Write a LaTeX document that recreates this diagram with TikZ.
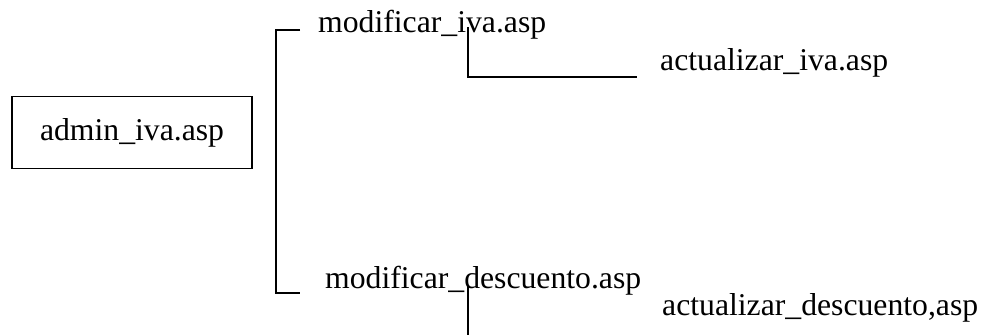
\documentclass[tikz,border=0pt]{standalone}
\usepackage{fontspec}
\setmainfont{Liberation Serif}
\begin{document}
\begin{tikzpicture}[x=1pt,y=-1pt,
  lbl/.style={inner sep=0pt,anchor=base west,font=\fontsize{31.7}{38}\selectfont},
  conn/.style={line width=1.3pt}]
\useasboundingbox (0,0) rectangle (987,335);
\node[draw,line width=1.3pt,minimum width=240pt,minimum height=72pt,inner sep=0pt,font=\fontsize{31.7}{38}\selectfont] (admin) at (132,132.5) {admin\_iva.asp};
\node[lbl] (modiva) at (318,32) {modificar\_iva.asp};
\node[lbl] (activa) at (660,70) {actualizar\_iva.asp};
\node[lbl] (moddesc) at (325,288) {modificar\_descuento.asp};
\node[lbl] (actdesc) at (662,315) {actualizar\_descuento,asp};
% bracket
\coordinate (bt) at (300,30);
\coordinate (bb) at (300,293);
\draw[conn] (bt) -- (276,30) -- (276,293) -- (bb);
% modificar_iva -> actualizar_iva
\coordinate (mi) at (468,27);
\coordinate (ai) at (637,77);
\draw[conn] (mi) -- (468,77) -- (ai);
% modificar_descuento -> down
\coordinate (md) at (468,285);
\coordinate (mdend) at (468,335);
\draw[conn] (md) -- (mdend);
\end{tikzpicture}
\end{document}
